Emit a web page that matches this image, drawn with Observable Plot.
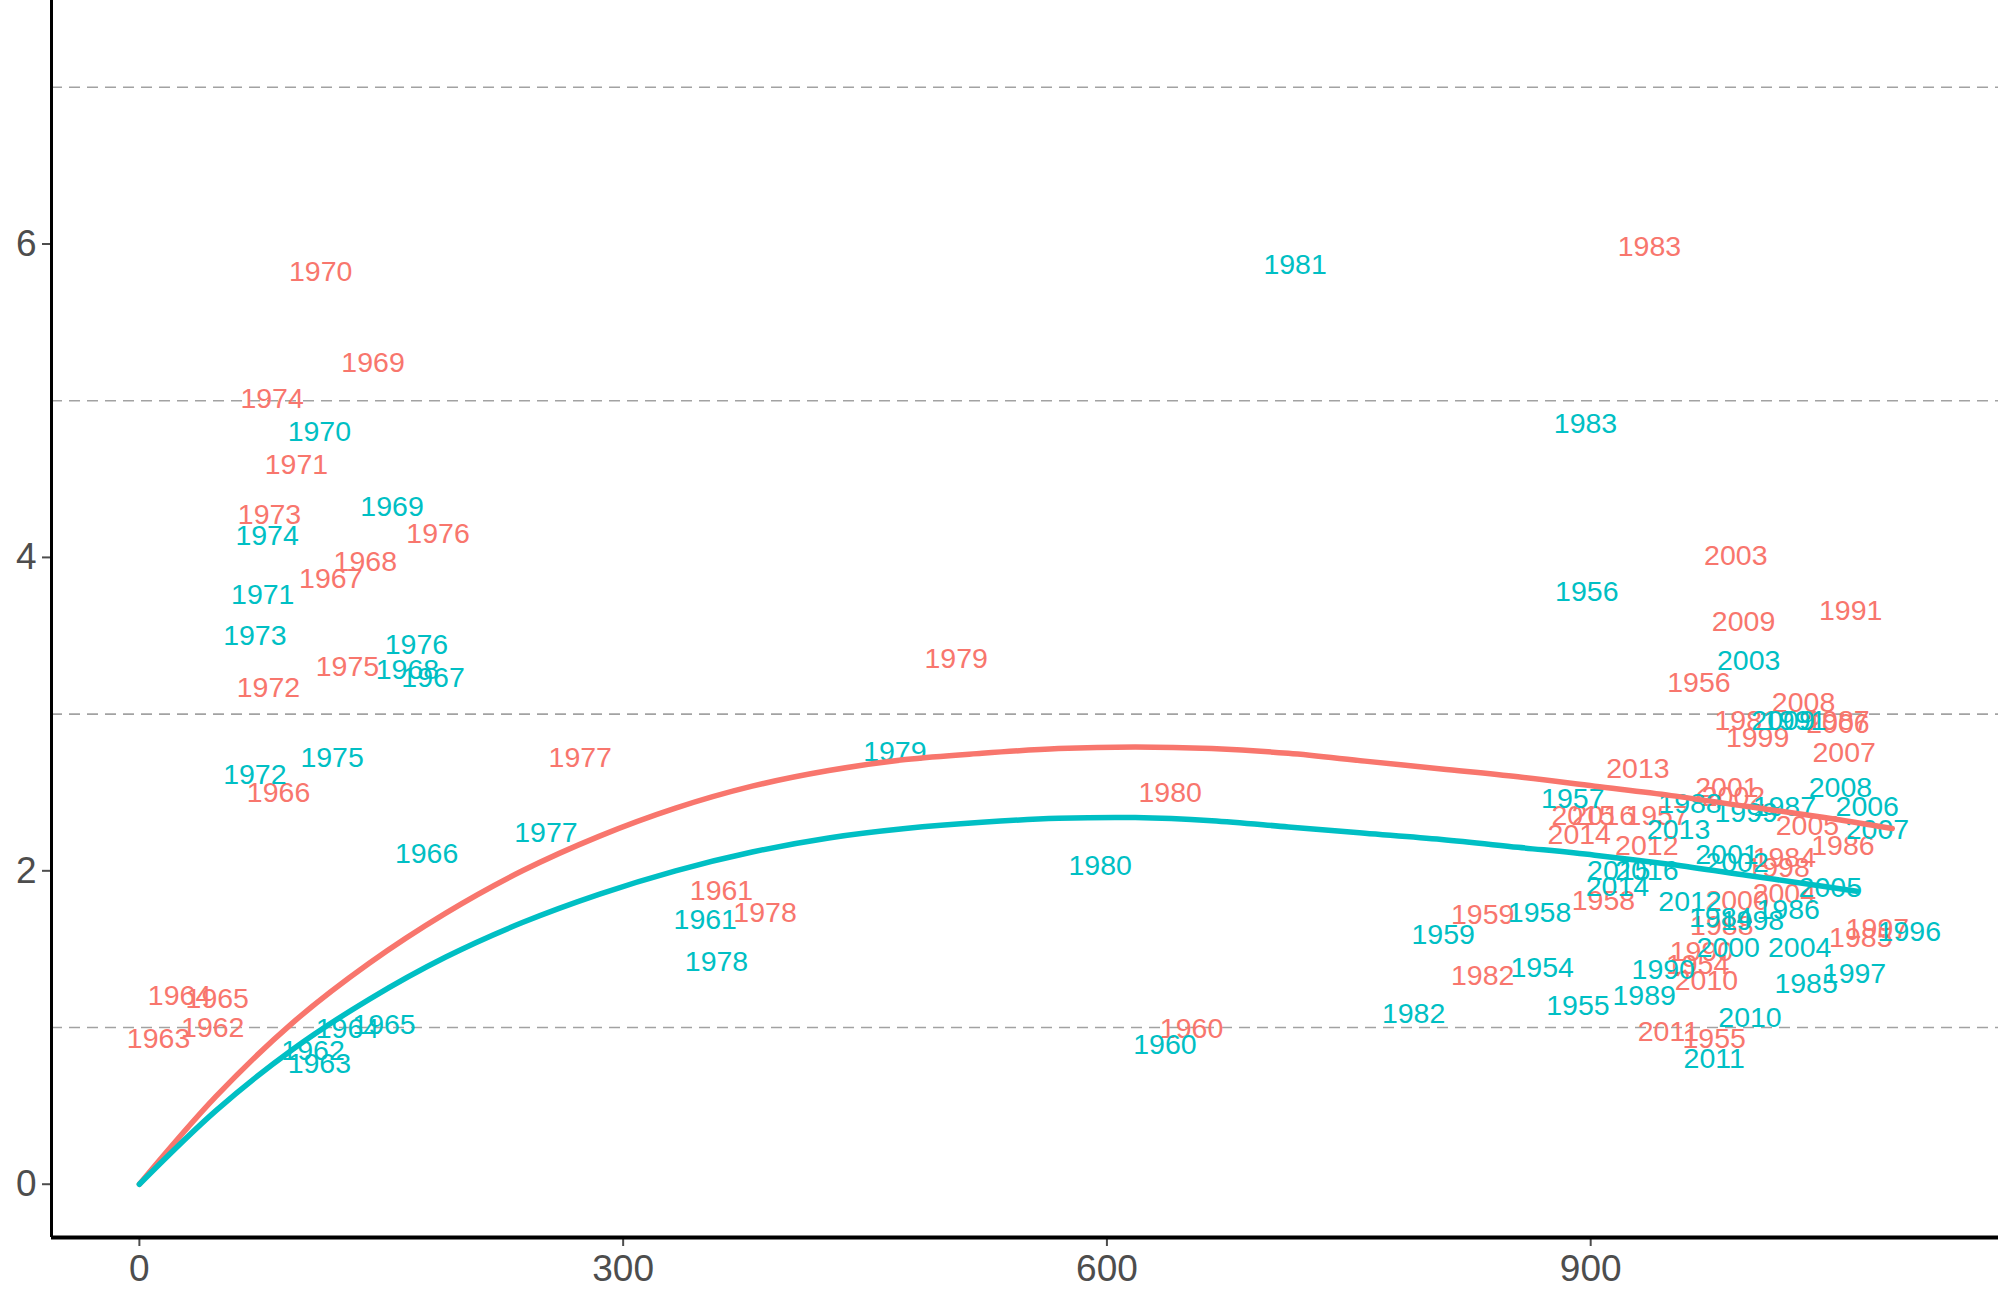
<!DOCTYPE html>
<html>
<head>
<meta charset="utf-8">
<script src="https://cdn.jsdelivr.net/npm/d3@7"></script>
<script src="https://cdn.jsdelivr.net/npm/@observablehq/plot@0.6"></script>
<style>
  html, body { margin: 0; padding: 0; background: #fff; }
  svg { display: block; }
</style>
</head>
<body>
<div id="chart"></div>
<script>
// ---- data ----
const redYears = [1954,1955,1956,1957,1958,1959,1960,1961,1962,1963,1964,1965,1966,1967,1968,1969,1970,1971,1972,1973,1974,1975,1976,1977,1978,1979,1980,1981,1982,1983,1984,1985,1986,1987,1988,1990,1991,1997,1998,1999,2000,2001,2002,2003,2004,2005,2006,2007,2008,2009,2010,2011,2012,2013,2014,2015,2016];
const redX = [966.3,976.6,967.1,941.2,907.9,833.0,652.5,361.0,45.5,11.9,24.9,48.3,86.3,118.7,140.1,144.9,112.4,97.4,80.0,80.7,82.3,129.0,185.2,273.4,388.0,506.5,639.2,996.4,833.0,936.4,1020.1,1067.5,1056.4,1053.3,981.3,968.7,1061.2,1077.8,1016.2,1003.5,990.8,984.5,988.5,990.0,1020.1,1034.4,1053.3,1057.2,1032.0,994.8,971.8,948.2,934.8,929.3,892.9,895.3,907.9];
const redY = [1.40,0.93,3.20,2.35,1.81,1.72,0.99,1.87,1.00,0.93,1.20,1.18,2.50,3.86,3.97,5.24,5.82,4.59,3.17,4.27,5.01,3.30,4.15,2.72,1.73,3.35,2.50,2.96,1.33,5.98,2.08,1.57,2.16,2.96,1.65,1.48,3.66,1.63,2.02,2.85,1.81,2.53,2.47,4.01,1.85,2.29,2.94,2.75,3.07,3.59,1.30,0.97,2.16,2.65,2.23,2.35,2.35];

const tealYears = [1954,1955,1956,1957,1958,1959,1960,1961,1962,1963,1964,1965,1966,1967,1968,1969,1970,1971,1972,1973,1974,1975,1976,1977,1978,1979,1980,1981,1982,1983,1984,1985,1986,1987,1988,1989,1990,1991,1996,1997,1998,1999,2000,2001,2002,2003,2004,2005,2006,2007,2008,2009,2010,2011,2012,2013,2014,2015,2016];
const tealX = [869.9,892.1,897.6,888.9,868.3,808.5,636.0,350.9,107.7,111.6,129.0,151.7,178.1,182.1,166.2,156.7,111.6,76.5,71.6,71.6,79.2,119.5,171.8,252.1,357.9,468.5,595.8,716.7,790.2,896.8,980.6,1033.6,1022.5,1020.1,961.6,933.2,945.0,1026.5,1097.6,1063.6,1000.3,996.4,985.3,984.5,990.8,998.0,1029.6,1048.6,1071.5,1077.8,1054.9,1019.3,998.8,976.6,961.6,954.5,916.6,917.4,934.8];
const tealY = [1.38,1.14,3.78,2.46,1.73,1.59,0.89,1.69,0.85,0.77,0.99,1.02,2.11,3.23,3.28,4.32,4.80,3.76,2.61,3.50,4.14,2.72,3.44,2.24,1.42,2.76,2.03,5.87,1.09,4.85,1.70,1.28,1.75,2.41,2.43,1.20,1.37,2.96,1.61,1.34,1.68,2.37,1.51,2.10,2.05,3.34,1.51,1.89,2.41,2.26,2.53,2.96,1.06,0.80,1.80,2.26,1.90,2.00,2.00];

// smoothed curves
const redCurveX = [0,47.5,95,142.5,190,237.5,285,332.5,380,427.5,475,522.5,570,617.5,665,712.5,760,807.5,855,902.5,950,997.5,1045,1087];
const redCurveY = [0,0.56,1.03,1.41,1.73,2.00,2.22,2.40,2.54,2.64,2.71,2.75,2.78,2.79,2.78,2.75,2.70,2.65,2.60,2.54,2.48,2.41,2.34,2.27];
const tealCurveX = [0,47.5,95,142.5,190,237.5,285,332.5,380,427.5,475,522.5,570,617.5,665,712.5,760,807.5,855,902.5,950,997.5,1045,1065];
const tealCurveY = [0,0.47,0.86,1.18,1.45,1.67,1.85,2.00,2.12,2.21,2.27,2.31,2.335,2.34,2.32,2.28,2.24,2.20,2.15,2.10,2.04,1.97,1.90,1.87];

const xTicks = [0, 300, 600, 900];
const yTicks = [0, 2, 4, 6];
const gridLines = [1, 3, 5, 7];
const xDomain = [-54.5, 1152.9];
const yDomain = [-0.340, 7.554];

const RED = "#F8766D";
const TEAL = "#00BFC4";

// ---- build tables ----
const redLabels = redYears.map((yr, i) => ({year: String(yr), x: redX[i], y: redY[i]}));
const tealLabels = tealYears.map((yr, i) => ({year: String(yr), x: tealX[i], y: tealY[i]}));
const redCurve = redCurveX.map((x, i) => ({x, y: redCurveY[i]}));
const tealCurve = tealCurveX.map((x, i) => ({x, y: tealCurveY[i]}));

const chart = Plot.plot({
  width: 1998,
  height: 1289,
  marginLeft: 51,
  marginRight: 0,
  marginTop: 0,
  marginBottom: 52,
  style: {fontFamily: "'Liberation Sans', Arial, sans-serif", background: "#fff"},
  x: {domain: xDomain},
  y: {domain: yDomain},
  marks: [
    Plot.ruleY(gridLines, {stroke: "#A2A2A2", strokeWidth: 1.6, strokeDasharray: "11,7"}),
    Plot.text(redLabels, {x: "x", y: "y", text: "year", fill: RED, fontSize: 28.5, textAnchor: "middle"}),
    Plot.text(tealLabels, {x: "x", y: "y", text: "year", fill: TEAL, fontSize: 28.5, textAnchor: "middle"}),
    Plot.line(redCurve, {x: "x", y: "y", stroke: RED, strokeWidth: 5.5, curve: "catmull-rom"}),
    Plot.line(tealCurve, {x: "x", y: "y", stroke: TEAL, strokeWidth: 5.5, curve: "catmull-rom"}),
    Plot.axisX({ticks: xTicks, tickSize: 9, tickPadding: 8, fontSize: 37, color: "#4D4D4D", strokeWidth: 2, tickFormat: d => String(d), label: null}),
    Plot.axisY({ticks: yTicks, tickSize: 9, tickPadding: 6, fontSize: 37, color: "#4D4D4D", strokeWidth: 2, tickFormat: d => String(d), label: null}),
    Plot.ruleY([yDomain[0]], {stroke: "#000", strokeWidth: 4}),
    Plot.ruleX([xDomain[0]], {stroke: "#000", strokeWidth: 3})
  ]
});
document.getElementById("chart").appendChild(chart);
</script>
</body>
</html>
